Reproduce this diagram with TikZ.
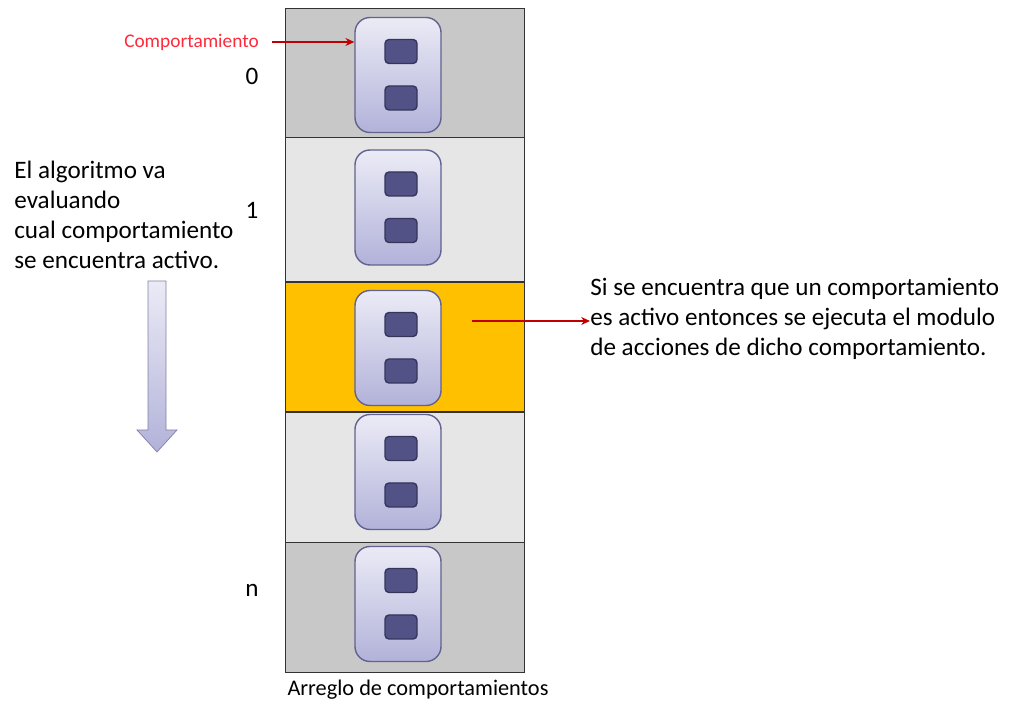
\documentclass[tikz,border=0pt]{standalone}
\usepackage{fontspec}
\setmainfont{Carlito}
\usetikzlibrary{positioning,arrows.meta}

\definecolor{cellgray}{HTML}{C8C8C8}
\definecolor{celllight}{HTML}{E6E6E6}
\definecolor{cellorange}{HTML}{FFC000}
\definecolor{comptop}{HTML}{EBEBF6}
\definecolor{compbot}{HTML}{B2B2DA}
\definecolor{compedge}{HTML}{62628F}
\definecolor{slotfill}{HTML}{525287}
\definecolor{slotedge}{HTML}{35355C}
\definecolor{notered}{HTML}{FF2A3C}
\definecolor{linkred}{HTML}{C00000}

\begin{document}
\begin{tikzpicture}
   \tikzset{cell/.style={draw=black!80, minimum width=4.78cm, minimum height=#1, inner sep=0pt},
            comp/.style={draw=compedge, line width=0.8pt, rounded corners=0.3cm, top color=comptop, bottom color=compbot, minimum width=1.72cm, minimum height=2.30cm},
            slot/.style={draw=slotedge, fill=slotfill, rounded corners=0.08cm, minimum width=0.64cm, minimum height=0.48cm, line width=0.8pt},
            txt/.style={font=\fontsize{14.3}{17.1}\selectfont, align=left, inner sep=0pt},
            link/.style={draw=linkred, line width=0.6pt, -{Stealth[length=5pt,width=4.5pt]}}};

\useasboundingbox (0,0) rectangle (20.22,-14.04);

\node[cell=2.58cm, fill=cellgray] (r0) at (8.09,-1.45) {};
\node[cell=2.88cm, fill=celllight, below=0pt of r0] (r1) {};
\node[cell=2.58cm, fill=cellorange, below=0pt of r1] (r2) {};
\node[cell=2.60cm, fill=celllight, below=0pt of r2] (r3) {};
\node[cell=2.60cm, fill=cellgray, below=0pt of r3] (r4) {};

\foreach \i/\y in {0/-1.50,1/-4.15,2/-6.96,3/-9.44,4/-12.08}{
  \node[comp] (c\i) at (7.96,\y) {};
  \node[slot] (s\i a) at (8.02,\y+0.47) {};
  \node[slot] (s\i b) at (8.02,\y-0.46) {};
}

\node[txt] (i0) at (5.04,-1.52) {0};
\node[txt] (i1) at (5.04,-4.20) {1};
\node[txt] (in) at (5.04,-11.80) {n};

\node[font=\fontsize{11}{12}\selectfont, text=notered, inner sep=0pt] (lbl) at (3.83,-0.84) {Comportamiento};
\draw[link] (lbl.east) ++(0.26,0) -- (c0.west |- lbl);

\node[txt, anchor=west] (algo) at (0.28,-4.30) {El algoritmo va\\evaluando\\cual comportamiento\\se encuentra activo.};

% flecha de recorrido
\draw[draw=compedge!80, top color=comptop, bottom color=compbot]
  (2.96,-5.62) -- (3.32,-5.62) -- (3.32,-8.60) -- (3.54,-8.60) -- (3.14,-9.04)
  -- (2.74,-8.60) -- (2.96,-8.60) -- cycle;

\node[txt, anchor=west] (exec) at (11.80,-6.38) {Si se encuentra que un comportamiento\\es activo entonces se ejecuta el modulo\\de acciones de dicho comportamiento.};
\coordinate (act) at (9.44,-6.42);
\draw[link] (act) -- (exec.west |- act);

\node[font=\fontsize{12.7}{14}\selectfont, inner sep=0pt] (arr) at (8.36,-13.80) {Arreglo de comportamientos};

\end{tikzpicture}
\end{document}
